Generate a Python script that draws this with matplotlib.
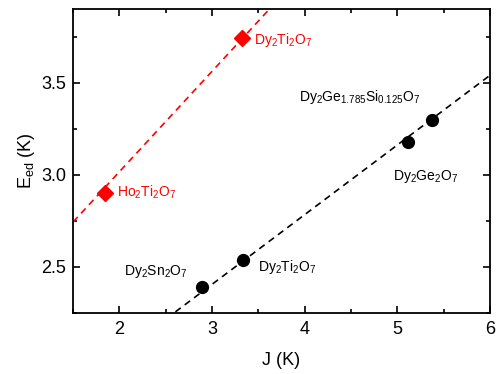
import numpy as np
import matplotlib
matplotlib.use('Agg')
import matplotlib.pyplot as plt
from matplotlib.ticker import MultipleLocator, FormatStrFormatter

plt.rcParams['font.family'] = ['Liberation Sans', 'DejaVu Sans']
plt.rcParams['mathtext.fontset'] = 'custom'
plt.rcParams['mathtext.rm'] = 'Liberation Sans'
plt.rcParams['mathtext.it'] = 'Liberation Sans:italic'

# titanates (red)
red_J = [1.84, 3.32]
red_E = [2.90, 3.74]
red_names = [r'Ho$_2$Ti$_2$O$_7$', r'Dy$_2$Ti$_2$O$_7$']
red_fit = (0.545, 1.927)   # slope, intercept

# black series
blk_J = [2.89, 3.33, 5.12, 5.37]
blk_E = [2.39, 2.54, 3.18, 3.30]
blk_names = [r'Dy$_2$Sn$_2$O$_7$', r'Dy$_2$Ti$_2$O$_7$',
             r'Dy$_2$Ge$_2$O$_7$', r'Dy$_2$Ge$_{1.785}$Si$_{0.125}$O$_7$']
blk_fit = (0.378, 1.272)

fig = plt.figure(figsize=(5.01, 3.74), dpi=100)
ax = fig.add_axes([0.146, 0.163, 0.832, 0.813])

xs = np.array([1.5, 6.0])
ax.plot(xs, red_fit[0]*xs + red_fit[1], '--', color='red', lw=1.2, dashes=(4, 3))
ax.plot(xs, blk_fit[0]*xs + blk_fit[1], '--', color='black', lw=1.2, dashes=(4, 3))
ax.plot(red_J, red_E, 'D', color='red', ms=8, ls='none')
ax.plot(blk_J, blk_E, 'o', color='black', ms=8.5, ls='none')

fs = 10
ax.annotate(red_names[0], (red_J[0], red_E[0]), xytext=(9, 0.5), textcoords='offset points',
            color='red', fontsize=fs, va='center', ha='left')
ax.annotate(red_names[1], (red_J[1], red_E[1]), xytext=(9, -1), textcoords='offset points',
            color='red', fontsize=fs, va='center', ha='left')
ax.annotate(blk_names[0], (blk_J[0], blk_E[0]), xytext=(-10, 11), textcoords='offset points',
            fontsize=fs, va='center', ha='right')
ax.annotate(blk_names[1], (blk_J[1], blk_E[1]), xytext=(11, -5), textcoords='offset points',
            fontsize=fs, va='center', ha='left')
ax.annotate(blk_names[2], (blk_J[2], blk_E[2]), xytext=(12, -25), textcoords='offset points',
            fontsize=fs, va='center', ha='center')
ax.annotate(blk_names[3], (blk_J[3], blk_E[3]), xytext=(-52, 16), textcoords='offset points',
            fontsize=fs, va='center', ha='center')

ax.set_xlim(1.5, 6.0)
ax.set_ylim(2.25, 3.9)
ax.xaxis.set_major_locator(MultipleLocator(1))
ax.xaxis.set_minor_locator(MultipleLocator(0.5))
ax.yaxis.set_major_locator(MultipleLocator(0.5))
ax.yaxis.set_minor_locator(MultipleLocator(0.25))
ax.yaxis.set_major_formatter(FormatStrFormatter('%.1f'))
ax.tick_params(which='both', direction='in', top=True, right=True, width=1.2, labelsize=13)
ax.tick_params(which='major', length=5)
ax.tick_params(which='minor', length=3)
ax.tick_params(axis='x', which='major', pad=6)
ax.tick_params(axis='y', which='major', pad=5)
for s in ax.spines.values():
    s.set_linewidth(1.3)

ax.set_xlabel('J (K)', fontsize=13, labelpad=10)
ax.set_ylabel(r'E$_{\mathrm{ed}}$ (K)', fontsize=13, labelpad=3)

fig.savefig('out.png', dpi=100)
